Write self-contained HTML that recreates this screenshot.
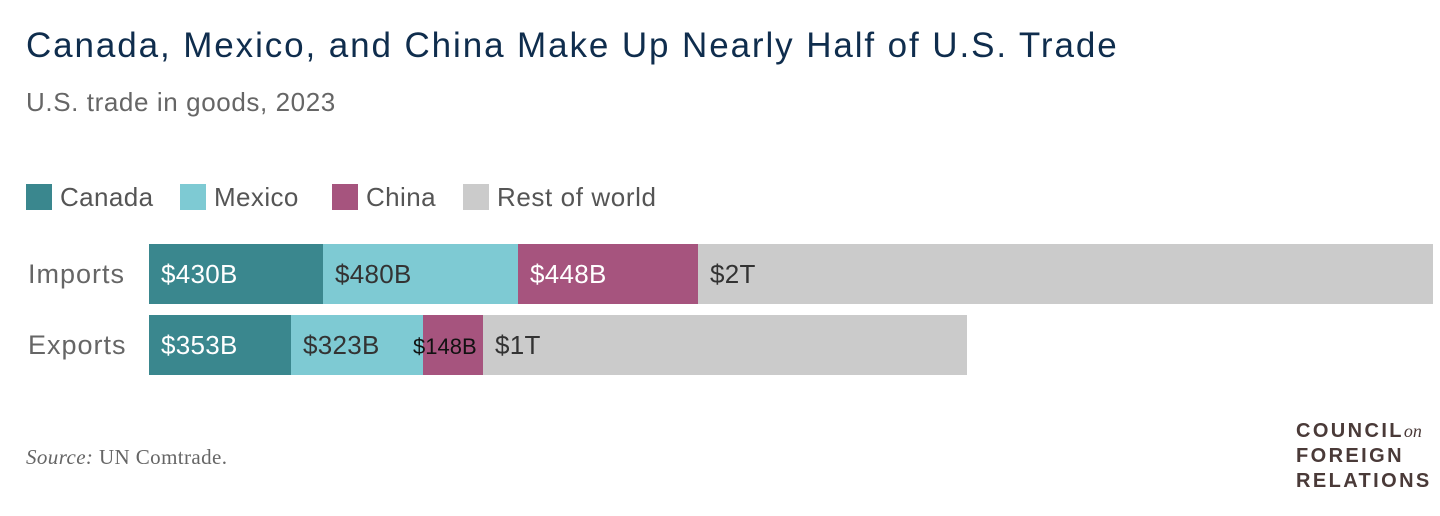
<!DOCTYPE html>
<html><head><style>
body{margin:0;width:1440px;height:516px;background:#fff;font-family:"Liberation Sans",sans-serif;position:relative;overflow:hidden}
.a{position:absolute;white-space:nowrap}
.b{position:absolute;height:60px}
.l{position:absolute;font-size:26px;line-height:60px;padding-left:12px;letter-spacing:0.3px}
.lg{font-size:26px;color:#555;top:182px;letter-spacing:0.4px}
</style></head><body>
<div class="a" style="left:26px;top:26px;font-size:35px;letter-spacing:1.9px;color:#0f2d4d">Canada, Mexico, and China Make Up Nearly Half of U.S. Trade</div>
<div class="a" style="left:26px;top:87px;font-size:26px;letter-spacing:0.6px;color:#666">U.S. trade in goods, 2023</div>
<div class="a" style="left:26px;top:184px;width:26px;height:26px;background:#3a878e"></div>
<div class="a lg" style="left:60px">Canada</div>
<div class="a" style="left:180px;top:184px;width:26px;height:26px;background:#7ecad3"></div>
<div class="a lg" style="left:214px">Mexico</div>
<div class="a" style="left:332px;top:184px;width:26px;height:26px;background:#a6547e"></div>
<div class="a lg" style="left:366px">China</div>
<div class="a" style="left:463px;top:184px;width:26px;height:26px;background:#cbcbcb"></div>
<div class="a lg" style="left:497px;letter-spacing:0.6px">Rest of world</div>

<div class="a" style="left:28px;top:259px;font-size:27px;letter-spacing:1px;color:#666">Imports</div>
<div class="b" style="left:149px;top:244px;width:174px;background:#3a878e"></div>
<div class="b" style="left:323px;top:244px;width:195px;background:#7ecad3"></div>
<div class="b" style="left:518px;top:244px;width:180px;background:#a6547e"></div>
<div class="b" style="left:698px;top:244px;width:735px;background:#cbcbcb"></div>
<div class="l" style="left:149px;top:244px;color:#fff">$430B</div>
<div class="l" style="left:323px;top:244px;color:#333">$480B</div>
<div class="l" style="left:518px;top:244px;color:#fff">$448B</div>
<div class="l" style="left:698px;top:244px;color:#333">$2T</div>

<div class="a" style="left:28px;top:330px;font-size:27px;letter-spacing:1px;color:#666">Exports</div>
<div class="b" style="left:149px;top:315px;width:142px;background:#3a878e"></div>
<div class="b" style="left:291px;top:315px;width:132px;background:#7ecad3"></div>
<div class="b" style="left:423px;top:315px;width:60px;background:#a6547e"></div>
<div class="b" style="left:483px;top:315px;width:484px;background:#cbcbcb"></div>
<div class="l" style="left:149px;top:315px;color:#fff">$353B</div>
<div class="l" style="left:291px;top:315px;color:#333">$323B</div>
<div class="l" style="left:401px;top:317px;color:#111;font-size:22px;letter-spacing:0">$148B</div>
<div class="l" style="left:483px;top:315px;color:#333">$1T</div>

<div class="a" style="left:26px;top:445px;font-size:21px;letter-spacing:0.4px;color:#666;font-family:'Liberation Serif',serif"><i>Source:</i> UN Comtrade.</div>
<div class="a" style="left:1296px;top:419px;font-size:20px;line-height:25px;color:#4a3a38;letter-spacing:2.4px;font-weight:bold">COUNCIL<i style="font-family:'Liberation Serif',serif;font-weight:normal;letter-spacing:0;font-size:18px">on</i><br>FOREIGN<br>RELATIONS</div>
</body></html>
